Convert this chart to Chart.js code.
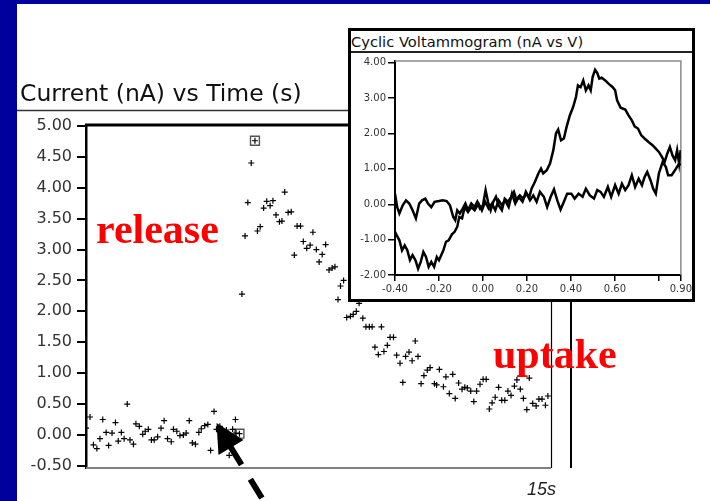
<!DOCTYPE html>
<html>
<head>
<meta charset="utf-8">
<script src="https://cdn.jsdelivr.net/npm/chart.js@4.4.1/dist/chart.umd.min.js"></script>
<style>
  html, body { margin: 0; padding: 0; }
  body { width: 710px; height: 501px; background: #00009c; position: relative; overflow: hidden; }
  #sheet { position: absolute; left: 17px; top: 4px; right: 0; bottom: 0; background: #fff; }
  canvas { position: absolute; }
  #mainCanvas { left: 0; top: 0; }
  .txt { position: absolute; white-space: nowrap; line-height: 1; }
  #mainTitle { left: 20px; top: 82px; font-family: "DejaVu Sans"; font-size: 23.5px; color: #111; }
  .red { font-family: "Liberation Serif"; font-weight: bold; font-size: 42px; color: #ff0000; }
  #release { left: 96px; top: 208px; }
  #uptake { left: 493px; top: 333px; }
  #endLabel { left: 527px; top: 480px; font-family: "Liberation Sans"; font-style: italic; font-size: 18px; color: #222; }
  #inset { position: absolute; left: 348px; top: 28px; width: 347px; height: 274px; border: 3px solid #000; box-sizing: border-box; background: #fff; }
  #insetBar { position: absolute; left: 0; top: 0; right: 0; height: 20px; border-bottom: 2px solid #222; }
  #insetCanvas { left: 351px; top: 53px; }
  #insetTitle { left: 351px; top: 35px; font-family: "DejaVu Sans"; font-size: 14.7px; color: #111; }
</style>
</head>
<body>
<div id="sheet"></div>
<canvas id="mainCanvas" width="710" height="501"></canvas>
<div class="txt" id="mainTitle">Current (nA) vs Time (s)</div>
<div class="txt red" id="release">release</div>
<div class="txt red" id="uptake">uptake</div>
<div class="txt" id="endLabel">15s</div>
<div id="inset"><div id="insetBar"></div></div>
<canvas id="insetCanvas" width="343" height="246"></canvas>
<div class="txt" id="insetTitle">Cyclic Voltammogram (nA vs V)</div>

<script>
// current vs time (one '+' per sample)
const timeS = [0.00,0.13,0.24,0.35,0.45,0.54,0.65,0.73,0.84,0.95,
  1.04,1.14,1.23,1.33,1.42,1.53,1.61,1.72,1.83,1.91,
  2.01,2.11,2.20,2.31,2.42,2.52,2.63,2.75,2.82,2.93,
  3.03,3.14,3.23,3.33,3.43,3.53,3.64,3.72,3.83,3.93,
  4.02,4.13,4.21,4.32,4.42,4.53,4.62,4.73,4.82,4.84,
  4.95,5.03,5.13,5.22,5.33,5.45,5.53,5.62,5.73,5.83,
  5.94,6.03,6.13,6.24,6.32,6.41,6.52,6.62,6.72,6.81,
  6.92,7.01,7.12,7.23,7.32,7.43,7.52,7.62,7.73,7.84,
  7.94,8.03,8.13,8.21,8.31,8.41,8.53,8.62,8.72,8.81,
  8.93,9.03,9.14,9.23,9.32,9.43,9.53,9.61,9.72,9.81,
  9.92,10.02,10.13,10.22,10.31,10.42,10.52,10.62,10.71,10.81,
  10.90,11.01,11.10,11.24,11.31,11.40,11.53,11.61,11.72,11.83,
  11.91,12.02,12.13,12.22,12.30,12.41,12.51,12.60,12.71,12.81,
  12.91,13.01,13.10,13.20,13.31,13.41,13.51,13.61,13.71,13.82,
  13.90,14.01,14.11,14.22,14.30,14.41,14.52,14.61,14.71,14.82,
  14.90];
const currentNA = [0.11,0.29,-0.16,-0.22,-0.06,0.25,0.04,-0.17,0.03,0.20,
  -0.10,0.04,-0.06,0.50,-0.08,-0.15,0.18,0.14,0.01,0.06,
  0.09,-0.08,-0.08,-0.03,0.11,0.23,-0.06,-0.11,0.09,0.06,
  -0.01,0.00,0.03,0.23,-0.13,-0.15,0.04,0.10,0.15,0.17,
  -0.25,0.38,0.09,0.14,-0.08,0.08,-0.33,0.09,0.25,0.03,
  0.02,2.28,3.22,3.76,4.40,4.76,3.30,3.37,3.67,3.78,
  3.71,3.79,3.56,3.45,3.46,3.93,3.60,3.61,2.91,3.38,
  3.38,3.13,3.02,3.07,3.28,3.00,2.80,2.92,3.08,2.67,
  2.70,2.72,2.19,2.41,2.50,1.90,1.92,1.95,2.00,2.13,
  1.89,1.75,1.75,1.75,1.42,1.30,1.75,1.35,1.45,1.58,
  1.58,1.29,1.16,0.85,1.27,1.34,1.20,1.52,1.27,0.83,
  0.96,1.05,1.09,0.83,0.81,1.06,0.78,0.94,0.67,0.98,
  0.59,0.84,0.74,0.77,0.76,0.71,0.54,0.71,0.82,0.90,
  0.90,0.42,0.52,0.61,0.77,0.56,0.56,0.71,0.64,0.79,
  0.89,0.74,0.59,0.41,0.92,0.51,0.47,0.58,0.58,0.48,
  0.63];
// the two boxed samples (cursor markers)
const markerTimeS = [4.95, 5.45];
const markerCurrentNA = [0.02, 4.76];
const yTicksMain = [5.0, 4.5, 4.0, 3.5, 3.0, 2.5, 2.0, 1.5, 1.0, 0.5, 0.0, -0.5];

// cyclic voltammogram, forward scan -0.4 -> 0.9 V
const cvForwardV = [-0.40,-0.39,-0.38,-0.365,-0.35,-0.335,-0.32,-0.305,-0.29,-0.277,
  -0.262,-0.25,-0.235,-0.22,-0.20,-0.183,-0.165,-0.15,-0.135,-0.126,
  -0.117,-0.105,-0.092,-0.08,-0.068,-0.053,-0.038,-0.026,-0.014,0.0,
  0.012,0.023,0.035,0.047,0.059,0.071,0.086,0.099,0.114,0.129,
  0.141,0.153,0.168,0.183,0.199,0.211,0.221,0.236,0.252,0.264,
  0.274,0.29,0.305,0.32,0.332,0.342,0.355,0.368,0.38,0.395,
  0.41,0.423,0.432,0.444,0.456,0.468,0.48,0.49,0.499,0.51,
  0.52,0.529,0.54,0.556,0.571,0.59,0.601,0.61,0.626,0.647,
  0.662,0.677,0.69,0.705,0.72,0.735,0.753,0.771,0.786,0.80,
  0.814,0.826,0.838,0.85,0.862,0.874,0.883,0.892,0.899];
const cvForwardI = [0.30,-0.08,-0.26,-0.03,0.11,0.02,-0.17,-0.40,0.02,0.11,
  0.16,0.02,-0.08,0.07,0.09,0.11,0.09,-0.03,-0.36,-0.45,
  -0.17,-0.26,-0.12,0.02,-0.17,0.02,-0.08,0.07,-0.12,-0.03,
  0.40,0.07,-0.17,0.07,0.21,-0.03,-0.17,0.16,0.07,0.21,
  0.35,0.11,0.25,0.16,0.30,0.21,0.44,0.63,0.87,1.01,
  0.87,0.96,1.15,1.53,2.00,2.11,1.81,1.86,2.18,2.51,
  2.75,3.03,3.36,3.31,3.50,3.22,3.36,3.22,3.60,3.80,
  3.71,3.55,3.58,3.50,3.41,3.31,3.22,2.94,2.73,2.68,
  2.51,2.37,2.20,2.14,1.95,1.86,1.76,1.67,1.57,1.48,
  1.34,1.19,1.43,1.62,1.38,1.24,1.53,1.15,1.53];
// reverse scan 0.9 -> -0.4 V
const cvReverseV = [0.90,0.892,0.873,0.858,0.842,0.832,0.817,0.80,0.786,0.774,
  0.762,0.747,0.735,0.723,0.708,0.692,0.677,0.662,0.647,0.632,
  0.617,0.601,0.583,0.568,0.55,0.535,0.52,0.505,0.486,0.468,
  0.453,0.435,0.417,0.402,0.383,0.368,0.353,0.338,0.323,0.308,
  0.292,0.277,0.259,0.244,0.229,0.214,0.195,0.18,0.162,0.147,
  0.132,0.117,0.101,0.086,0.071,0.056,0.041,0.026,0.01,-0.005,
  -0.02,-0.038,-0.053,-0.068,-0.083,-0.095,-0.108,-0.117,-0.129,-0.141,
  -0.156,-0.168,-0.18,-0.19,-0.20,-0.21,-0.222,-0.235,-0.247,-0.259,
  -0.271,-0.283,-0.295,-0.307,-0.32,-0.332,-0.344,-0.356,-0.368,-0.38,
  -0.392,-0.40];
const cvReverseI = [1.10,1.15,0.96,0.82,0.82,1.05,1.19,0.87,0.30,0.44,
  0.68,0.91,0.77,0.54,0.72,0.49,0.82,0.54,0.40,0.58,
  0.30,0.54,0.21,0.49,0.21,0.35,0.40,0.16,0.25,0.44,
  0.21,0.30,0.16,0.30,0.30,0.07,-0.15,0.11,0.42,0.21,
  -0.08,0.21,0.35,0.07,0.25,0.11,0.35,0.07,0.21,0.02,
  0.30,-0.08,0.11,-0.03,0.11,-0.17,0.02,-0.12,0.07,-0.17,
  0.02,-0.17,-0.08,-0.22,-0.08,-0.40,-0.36,-0.64,-0.78,-0.85,
  -1.02,-1.06,-1.30,-1.44,-1.58,-1.49,-1.77,-1.63,-1.77,-1.49,
  -1.35,-1.63,-1.82,-1.58,-1.44,-1.58,-1.30,-1.16,-1.30,-1.02,
  -0.88,-0.78];
const cvTicksX = [-0.4, -0.2, 0.0, 0.2, 0.4, 0.6, 0.8, 0.9];
const cvTicksY = [4, 3, 2, 1, 0, -1, -2];

Chart.defaults.font.family = "DejaVu Sans";

function toPoints(xs, ys) {
  return xs.map((x, i) => ({ x: x, y: ys[i] }));
}

// frame lines and the pointer arrow around the main plot
const mainDecor = {
  id: "mainDecor",
  afterDraw(chart) {
    const ctx = chart.ctx;
    const a = chart.chartArea;
    ctx.save();
    ctx.strokeStyle = "#333";
    ctx.lineWidth = 1.5;
    ctx.beginPath(); ctx.moveTo(17, 110.5); ctx.lineTo(350, 110.5); ctx.stroke();

    ctx.strokeStyle = "#000";
    ctx.lineWidth = 3;
    ctx.beginPath(); ctx.moveTo(a.left - 1, a.top); ctx.lineTo(572, a.top); ctx.stroke();
    ctx.lineWidth = 1.2;
    ctx.beginPath(); ctx.moveTo(a.right + 0.5, a.top); ctx.lineTo(a.right + 0.5, a.bottom); ctx.stroke();
    ctx.lineWidth = 2;
    ctx.beginPath(); ctx.moveTo(571, a.top); ctx.lineTo(571, a.bottom); ctx.stroke();

    ctx.strokeStyle = "#808080";
    ctx.beginPath(); ctx.moveTo(a.left, a.bottom); ctx.lineTo(a.right, a.bottom); ctx.stroke();

    // dashed arrow pointing at the stimulation
    ctx.strokeStyle = "#000";
    ctx.fillStyle = "#000";
    ctx.lineWidth = 6;
    ctx.setLineDash([22, 17]);
    ctx.beginPath(); ctx.moveTo(230, 446); ctx.lineTo(268, 508); ctx.stroke();
    ctx.setLineDash([]);
    ctx.beginPath();
    ctx.moveTo(216.5, 423);
    ctx.lineTo(243.5, 440);
    ctx.lineTo(218.5, 455);
    ctx.closePath();
    ctx.fill();
    ctx.restore();
  }
};

new Chart(document.getElementById("mainCanvas"), {
  type: "scatter",
  data: {
    datasets: [
      {
        label: "Current (nA)",
        data: toPoints(timeS, currentNA),
        pointStyle: "cross",
        pointRadius: 3,
        borderColor: "#000",
        borderWidth: 1.2
      },
      {
        label: "markers",
        data: toPoints(markerTimeS, markerCurrentNA),
        pointStyle: "rect",
        pointRadius: 6.3,
        borderColor: "#555",
        backgroundColor: "rgba(0,0,0,0)",
        borderWidth: 1.4
      }
    ]
  },
  options: {
    responsive: false,
    animation: false,
    events: [],
    layout: { padding: { left: 0, top: 125, right: 159, bottom: 33 } },
    plugins: { legend: { display: false }, tooltip: { enabled: false } },
    scales: {
      x: { type: "linear", min: 0, max: 15, display: false },
      y: {
        min: -0.535,
        max: 5.015,
        afterFit(scale) { scale.width = 86; },
        afterBuildTicks(scale) { scale.ticks = yTicksMain.map(v => ({ value: v })); },
        ticks: {
          callback: v => v.toFixed(2),
          font: { size: 16 },
          color: "#333",
          padding: 5
        },
        grid: { drawOnChartArea: false, tickLength: 9, lineWidth: 2, color: "#000" },
        border: { color: "#000", width: 2.5 }
      }
    }
  },
  plugins: [mainDecor]
});

// grey top/right edges of the voltammogram plot
const insetFrame = {
  id: "insetFrame",
  beforeDatasetsDraw(chart) {
    const ctx = chart.ctx;
    const a = chart.chartArea;
    ctx.save();
    ctx.strokeStyle = "#8a8a8a";
    ctx.lineWidth = 1.5;
    ctx.beginPath();
    ctx.moveTo(a.left, a.top); ctx.lineTo(a.right, a.top); ctx.lineTo(a.right, a.bottom);
    ctx.stroke();
    ctx.restore();
  }
};

new Chart(document.getElementById("insetCanvas"), {
  type: "scatter",
  data: {
    datasets: [
      { label: "forward", data: toPoints(cvForwardV, cvForwardI), showLine: true, pointRadius: 0, borderColor: "#000", borderWidth: 2.5 },
      { label: "reverse", data: toPoints(cvReverseV, cvReverseI), showLine: true, pointRadius: 0, borderColor: "#000", borderWidth: 2.5 }
    ]
  },
  options: {
    responsive: false,
    animation: false,
    events: [],
    layout: { padding: { left: 0, top: 8, right: 12, bottom: 0 } },
    plugins: { legend: { display: false }, tooltip: { enabled: false } },
    scales: {
      x: {
        type: "linear",
        min: -0.4,
        max: 0.9,
        afterFit(scale) { scale.height = 24; },
        afterBuildTicks(scale) { scale.ticks = cvTicksX.map(v => ({ value: v })); },
        ticks: {
          autoSkip: false,
          maxRotation: 0,
          callback: v => (Math.abs(v - 0.8) < 1e-6 ? "" : v.toFixed(2)),
          font: { size: 10 },
          color: "#333",
          padding: 2
        },
        grid: { drawOnChartArea: false, tickLength: 6, lineWidth: 1.5, color: "#000" },
        border: { color: "#000", width: 2 }
      },
      y: {
        min: -2,
        max: 4.05,
        afterFit(scale) { scale.width = 44; },
        afterBuildTicks(scale) { scale.ticks = cvTicksY.map(v => ({ value: v })); },
        ticks: {
          callback: v => v.toFixed(2),
          font: { size: 10 },
          color: "#333",
          padding: 2
        },
        grid: { drawOnChartArea: false, tickLength: 7, lineWidth: 1.5, color: "#000" },
        border: { color: "#000", width: 2 }
      }
    }
  },
  plugins: [insetFrame]
});
</script>
</body>
</html>
